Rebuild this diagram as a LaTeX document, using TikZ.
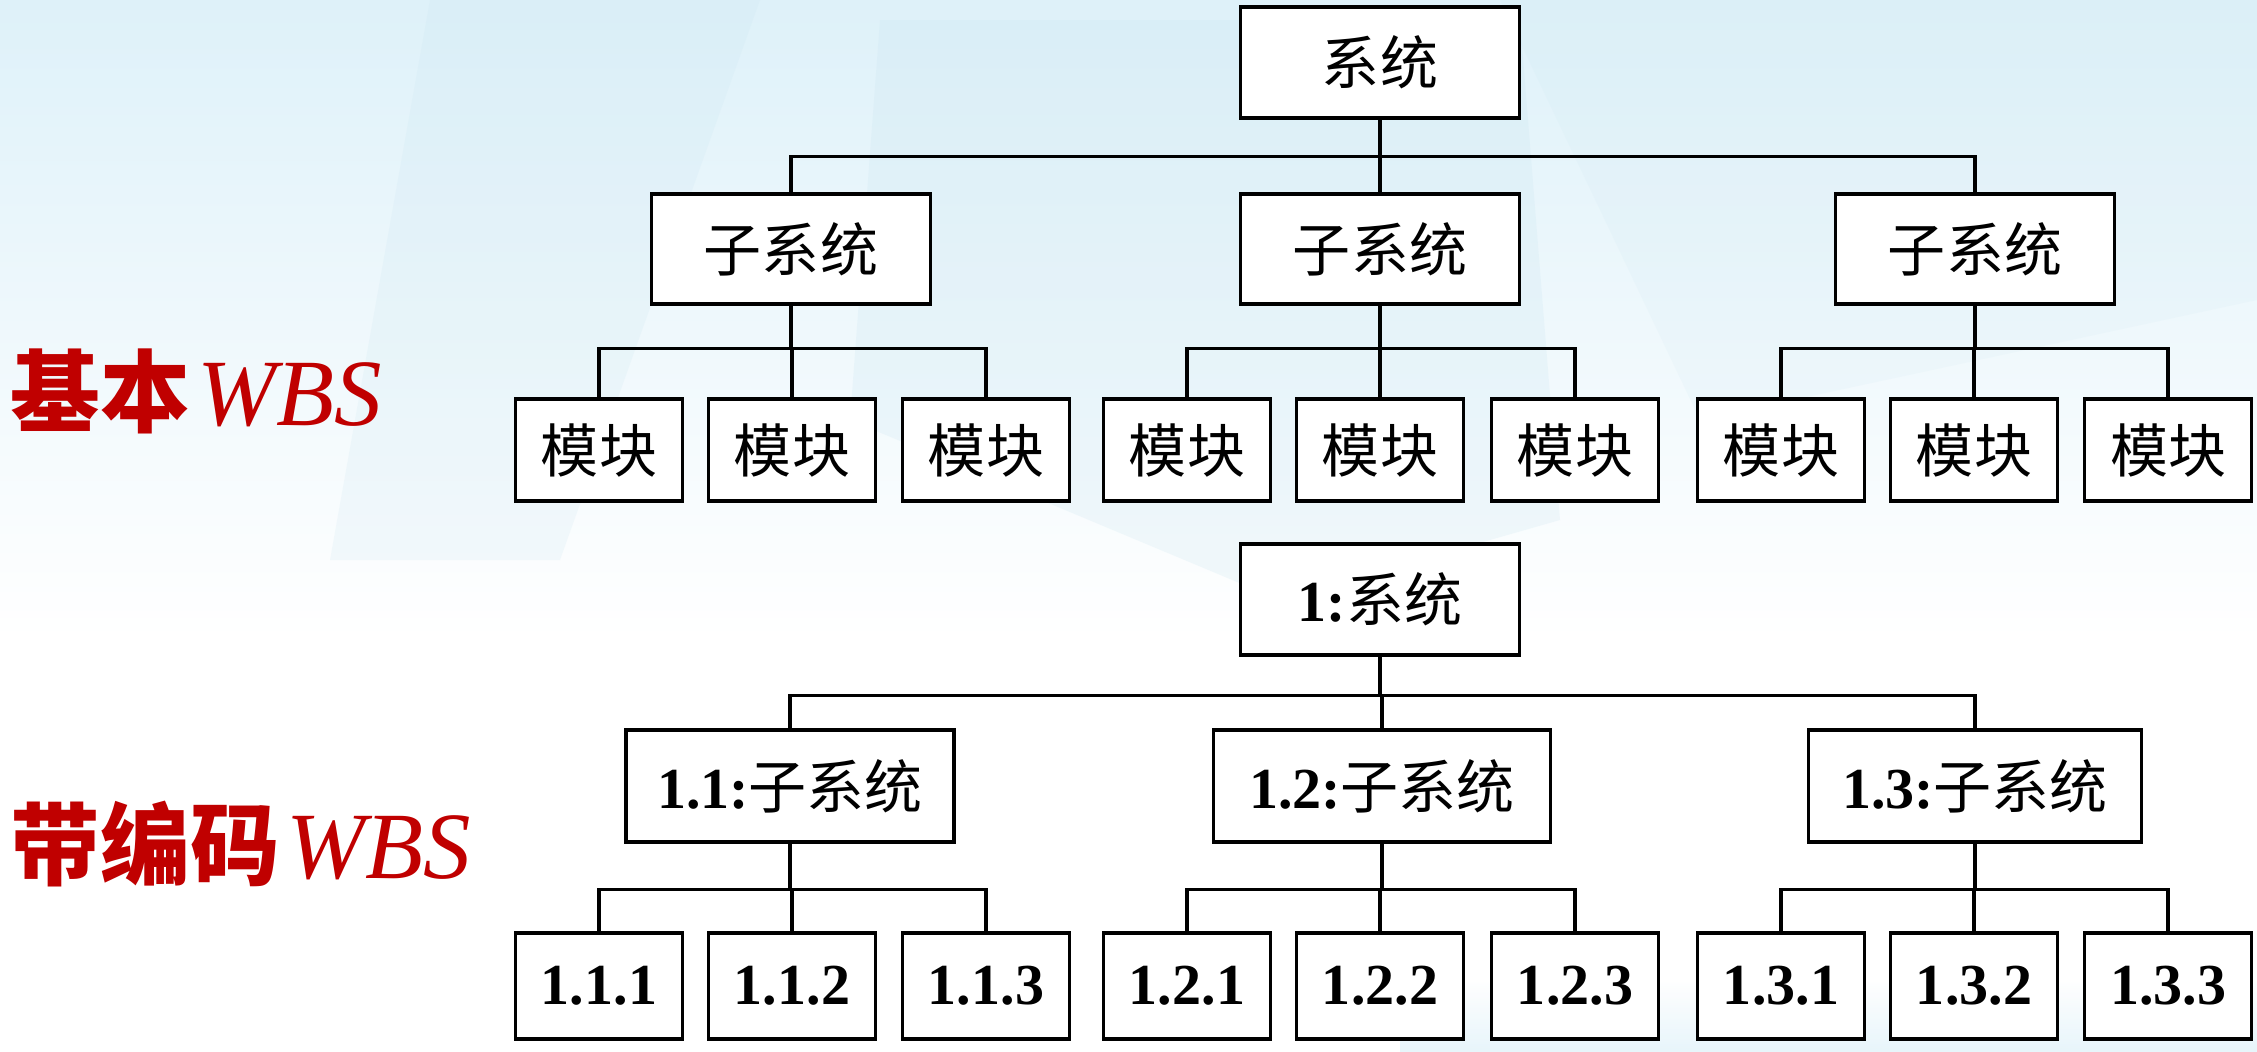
\documentclass[tikz,border=0pt]{standalone}
\usepackage{fontspec}
\setmainfont{Liberation Serif}
\newfontfamily\cjk{Noto Sans CJK SC}
\definecolor{lbl}{RGB}{192,0,0}
\definecolor{bgA}{RGB}{222,241,249}
\definecolor{bgC}{RGB}{200,228,240}
\begin{document}
\begin{tikzpicture}[x=0.01cm,y=-0.01cm,
  box/.style={draw=black,fill=white,line width=0.9pt,inner sep=0pt,
    font=\fontsize{16.5pt}{20pt}\selectfont},
  conn/.style={draw=black,line width=0.9pt},
  redlbl/.style={text=lbl,anchor=west,inner sep=0pt}]
\useasboundingbox (0,0) rectangle (2257,1051);
% background
\fill[white] (0,0) rectangle (2257,1051);
\shade[top color=bgA,bottom color=white] (0,0) rectangle (2257,640);
\fill[bgC,opacity=0.18] (430,0) -- (760,0) -- (560,560) -- (330,560) -- cycle;
\fill[bgC,opacity=0.22] (880,20) -- (1520,20) -- (1560,520) -- (1280,600) -- (850,420) -- cycle;
\fill[bgC,opacity=0.12] (1500,0) -- (2257,0) -- (2257,300) -- (1700,420) -- cycle;
\shade[top color=white,bottom color=bgA,opacity=0.7] (1400,980) rectangle (2257,1051);

% ---- basic WBS ----
\node[box,minimum width=279*0.01cm,minimum height=111*0.01cm] (sys) at (1380,62.5) {\cjk 系统};
\foreach \n/\x in {s1/791,s2/1380,s3/1975}
  \node[box,minimum width=279*0.01cm,minimum height=110*0.01cm] (\n) at (\x,249) {\cjk 子系统};
\foreach \n/\x in {m11/599,m12/792,m13/986,m21/1187,m22/1380,m23/1575,m31/1781,m32/1974,m33/2168}
  \node[box,minimum width=167*0.01cm,minimum height=102*0.01cm] (\n) at (\x,450) {\cjk 模块};

\foreach \c in {s1,s2,s3}
  \draw[conn] (sys.south) -- ++(0,37) -| (\c.north);
\foreach \p/\a/\b/\c in {s1/m11/m12/m13,s2/m21/m22/m23,s3/m31/m32/m33}{
  \draw[conn] (\p.south) -- ++(0,43) -| (\a.north);
  \draw[conn] (\p.south) -- ++(0,43) -| (\b.north);
  \draw[conn] (\p.south) -- ++(0,43) -| (\c.north);
}

% ---- coded WBS ----
\node[box,minimum width=279*0.01cm,minimum height=111*0.01cm] (csys) at (1380,599.5) {\textbf{1:}\cjk 系统};
\node[box,minimum width=328*0.01cm,minimum height=112*0.01cm] (c1) at (790,786) {\textbf{1.1:}\cjk 子系统};
\node[box,minimum width=337*0.01cm,minimum height=112*0.01cm] (c2) at (1382,786) {\textbf{1.2:}\cjk 子系统};
\node[box,minimum width=333*0.01cm,minimum height=112*0.01cm] (c3) at (1975,786) {\textbf{1.3:}\cjk 子系统};
\foreach \n/\x/\t in {k11/599/1.1.1,k12/792/1.1.2,k13/986/1.1.3,k21/1187/1.2.1,k22/1380/1.2.2,k23/1575/1.2.3,k31/1781/1.3.1,k32/1974/1.3.2,k33/2168/1.3.3}
  \node[box,minimum width=167*0.01cm,minimum height=106*0.01cm] (\n) at (\x,986) {\textbf{\t}};

\foreach \c in {c1,c2,c3}
  \draw[conn] (csys.south) -- ++(0,39) -| (\c.north);
\foreach \p/\a/\b/\c in {c1/k11/k12/k13,c2/k21/k22/k23,c3/k31/k32/k33}{
  \draw[conn] (\p.south) -- ++(0,46) -| (\a.north);
  \draw[conn] (\p.south) -- ++(0,46) -| (\b.north);
  \draw[conn] (\p.south) -- ++(0,46) -| (\c.north);
}

% ---- side labels ----
\node[redlbl] (lblA) at (10,391) {{\cjk\bfseries\fontsize{25.5pt}{30pt}\selectfont 基本}\hspace{2pt}{\itshape\fontsize{27pt}{32pt}\selectfont WBS}};
\node[redlbl] (lblB) at (10,844) {{\cjk\bfseries\fontsize{25.5pt}{30pt}\selectfont 带编码}\hspace{2pt}{\itshape\fontsize{27pt}{32pt}\selectfont WBS}};
\end{tikzpicture}
\end{document}
